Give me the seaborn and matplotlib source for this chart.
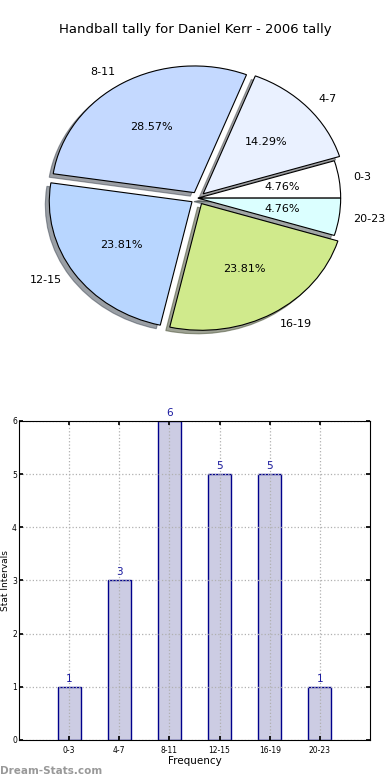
import matplotlib
matplotlib.use("Agg")
import matplotlib.pyplot as plt
import seaborn as sns
import pandas as pd

categories = ["0-3", "4-7", "8-11", "12-15", "16-19", "20-23"]
counts = [1, 3, 6, 5, 5, 1]
pie_colors = ["#ffffff", "#eaf1ff", "#c4d9ff", "#b8d6ff", "#d0ea8c", "#dbffff"]
explode = [0.0, 0.05, 0.05, 0.05, 0.05, 0.0]
title = "Handball tally for Daniel Kerr - 2006 tally"

sns.set_theme(style="white")
plt.rcParams["font.family"] = ["DejaVu Sans"]
plt.rcParams["text.color"] = "black"
plt.rcParams["axes.labelcolor"] = "black"
plt.rcParams["xtick.color"] = "black"
plt.rcParams["ytick.color"] = "black"

fig = plt.figure(figsize=(3.9, 7.8), dpi=100)

# Pie
axp = fig.add_axes([0.05, 0.543, 0.915, 0.406])
wedges, texts, autotexts = axp.pie(
    counts, labels=categories, colors=pie_colors, explode=explode,
    autopct="%.2f%%", shadow=True, startangle=0,
    wedgeprops=dict(edgecolor="black", linewidth=0.8),
    textprops=dict(fontsize=8, color="black"))
axp.set_aspect("auto")
axp.set_xlim(-1.25, 1.25)
axp.set_ylim(-1.25, 1.25)
fig.text(0.5, 1 - 30 / 780, title, ha="center", va="center", fontsize=9.5, color="black")

# Bars
axb = fig.add_axes([0.0487, 0.0513, 0.9, 0.409])
df = pd.DataFrame({"cat": categories, "val": counts})
sns.barplot(data=df, x="cat", y="val", ax=axb, color="#cccce3", saturation=1,
            edgecolor="#00008b", linewidth=1, width=0.46)
axb.set_xlim(-1, 6.0)
axb.set_ylim(0, 6)
axb.set_yticks(range(7))
for i, v in enumerate(counts):
    axb.text(i, v + 0.06, str(v), ha="center", va="bottom", fontsize=7.5, color="#1a1aa0")
axb.grid(True, linestyle=":", color="#b0b0b0", linewidth=0.9)
axb.set_axisbelow(False)
for sp in axb.spines.values():
    sp.set_visible(True)
    sp.set_color("black")
    sp.set_linewidth(0.8)
    sp.set_zorder(5)
axb.tick_params(axis="both", labelsize=5.5, direction="in", length=3, top=True, right=True,
                bottom=True, left=True, pad=4)
axb.tick_params(axis="y", pad=1.5)
axb.set_xlabel("Frequency", fontsize=7.5, labelpad=1)
axb.set_ylabel("Stat Intervals", fontsize=6.5)
axb.yaxis.set_label_coords(-0.027, 0.5)

fig.text(0.0, 1 - 771 / 780, "Dream-Stats.com", ha="left", va="center",
         fontsize=7.5, color="#999999", fontweight="bold")

fig.savefig("out.png", dpi=100)
